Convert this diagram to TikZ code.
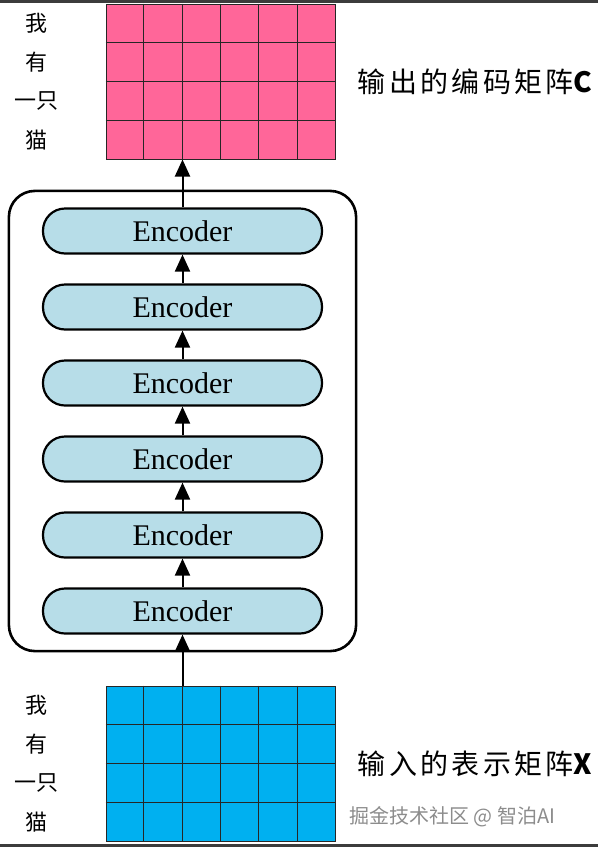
\documentclass[tikz,border=0pt]{standalone}
\usepackage{fontspec}
\setmainfont{Liberation Serif}
\newfontfamily\cjk{Noto Sans CJK SC}
\newfontfamily\cjkwide[LetterSpace=12]{Noto Sans CJK SC}
\usetikzlibrary{positioning,calc,fit,arrows.meta}
\definecolor{outpink}{HTML}{FF6699}
\definecolor{inblue}{HTML}{00B0F0}
\definecolor{encblue}{HTML}{B7DDE8}
\definecolor{bandgray}{HTML}{3C3C3C}
\definecolor{markgray}{HTML}{8C8C8C}

\begin{document}
\begin{tikzpicture}[x=1pt,y=-1pt,
gridbox/.style={draw=black!85,line width=1pt,minimum width=229pt,minimum height=155pt,inner sep=0pt},
cellline/.style={draw=black!85,line width=0.9pt},
encoder/.style={draw,line width=2.2pt,fill=encblue,rounded corners=22pt,minimum width=279pt,minimum height=45pt,inner sep=0pt,font=\fontsize{30}{34}\selectfont},
stackbox/.style={draw,line width=2.6pt,rounded corners=26pt,inner xsep=33pt,inner ysep=16.5pt},
flow/.style={line width=2pt,-{Triangle[length=17pt,width=15pt]}},
word/.style={font=\cjk\fontsize{22}{26}\selectfont,inner sep=0pt},
caption/.style={font=\cjkwide\fontsize{28}{32}\selectfont,inner sep=0pt},
watermark/.style={font=\cjk\fontsize{20}{24}\selectfont,text=markgray,inner sep=0pt,anchor=west},
]
	\useasboundingbox (0,0) rectangle (598,847);
	\fill[bandgray] (0,0) rectangle (598,2.5);
	\fill[bandgray] (0,844) rectangle (598,847);

	% the two matrices
	\node[gridbox,fill=outpink] (outC) at (220.5,81.5) {};
	\node[gridbox,fill=inblue] (inX) at (220.5,763.5) {};
	\foreach \m in {outC,inX}{
		\foreach \i in {1,...,5}
			\draw[cellline] ($(\m.north west)!\i/6!(\m.north east)$) -- ($(\m.south west)!\i/6!(\m.south east)$);
		\foreach \i in {1,2,3}
			\draw[cellline] ($(\m.north west)!\i/4!(\m.south west)$) -- ($(\m.north east)!\i/4!(\m.south east)$);
		\foreach \w [count=\k, evaluate=\k as \f using (\k-0.5)/4] in {我,有,一只,猫}
			\node[word] (\m-w\k) at ($(\m.north west)!\f!(\m.south west)+(-69,0)$) {\w};
	}
	\node[caption,right=22pt of outC] (outcap) {输出的编码矩阵{\bfseries C}};
	\node[caption,right=22pt of inX] (incap) {输入的表示矩阵{\bfseries X}};
	\node[watermark] (mark) at (349,817) {掘金技术社区 @ 智泊AI};

	% encoder stack
	\node[encoder] (enc1) at (182.5,611) {Encoder};
	\foreach \k [remember=\k as \j (initially 1)] in {2,...,6}{
		\node[encoder,above=28.8pt of enc\j] (enc\k) {Encoder};
		\draw[flow] (enc\j.north) -- (enc\k.south);
	}
	\node[stackbox,fit=(enc1)(enc6)] (stack) {};

	\draw[flow] (enc6.north) -- (enc6.north |- outC.south);
	\draw[flow] (enc1.south |- inX.north) -- (enc1.south);
\end{tikzpicture}
\end{document}
